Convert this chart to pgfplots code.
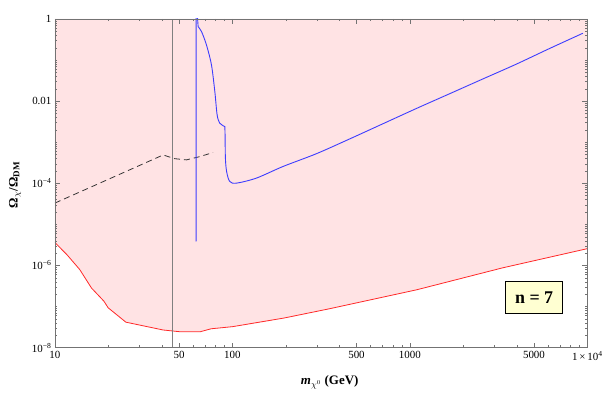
\documentclass[border=0pt]{standalone}
\usepackage{fontspec}
\setmainfont{Liberation Serif}
\usepackage{pgfplots}
\pgfplotsset{compat=1.18}

\definecolor{pinkfill}{RGB}{255,227,228}
\definecolor{redline}{RGB}{255,40,40}
\definecolor{blueline}{RGB}{60,60,255}
\definecolor{boxfill}{RGB}{255,255,210}

\begin{document}
\begin{tikzpicture}
\begin{axis}[
    scale only axis,
    width=533bp, height=329bp,
    xmode=log, ymode=log,
    xmin=10, xmax=10000,
    ymin=1e-8, ymax=1,
    axis on top,
    tick align=inside,
    major tick length=5bp,
    minor tick length=2.5bp,
    axis line style={black!55},
    every tick/.style={black!55},
    xtick={10,50,100,500,1000,5000,10000},
    xticklabels={10,50,100,500,1000,5000,1\,×\,10\textsuperscript{4}},
    minor xtick={20,30,40,60,70,80,90,200,300,400,600,700,800,900,2000,3000,4000,6000,7000,8000,9000},
    ytick={1e-8,1e-6,1e-4,1e-2,1},
    yticklabels={10\textsuperscript{−8},10\textsuperscript{−6},10\textsuperscript{−4},0.01,1},
    minor ytick={2e-8,3e-8,4e-8,5e-8,6e-8,7e-8,8e-8,9e-8,1e-7,
                 2e-7,3e-7,4e-7,5e-7,6e-7,7e-7,8e-7,9e-7,
                 2e-6,3e-6,4e-6,5e-6,6e-6,7e-6,8e-6,9e-6,1e-5,
                 2e-5,3e-5,4e-5,5e-5,6e-5,7e-5,8e-5,9e-5,
                 2e-4,3e-4,4e-4,5e-4,6e-4,7e-4,8e-4,9e-4,1e-3,
                 2e-3,3e-3,4e-3,5e-3,6e-3,7e-3,8e-3,9e-3,
                 0.02,0.03,0.04,0.05,0.06,0.07,0.08,0.09,0.1,
                 0.2,0.3,0.4,0.5,0.6,0.7,0.8,0.9},
    ticklabel style={font=\fontsize{11}{13}\selectfont},
    xlabel={\textbf{\textit{m}}$_{\chi^{0}}$ \textbf{(GeV)}},
    ylabel={\textbf{Ω}$_{\chi}$\textbf{/Ω\textsubscript{DM}}},
    xlabel style={at={(axis description cs:0.516,-0.106)}, anchor=center, font=\fontsize{13}{15}\selectfont},
    ylabel style={at={(axis description cs:-0.075,0.495)}, anchor=center, font=\fontsize{13}{15}\selectfont},
]
% allowed region (shaded above the lower bound)
\addplot[draw=none, fill=pinkfill] coordinates {
    (10,3.63e-6) (11.75,1.78e-6) (13.8,7.94e-7) (16.07,2.82e-7) (17.78,1.78e-7)
    (18.88,1.35e-7) (19.95,9.33e-8) (25.1,4.17e-8) (40.7,2.69e-8) (50.1,2.45e-8)
    (66.1,2.45e-8) (75.9,2.88e-8) (100,3.24e-8) (195,5.25e-8) (355,8.91e-8)
    (1096,2.57e-7) (3311,8.71e-7) (10000,2.57e-6) (10000,1) (10,1)};
% lower bound
\addplot[redline, line width=0.8pt] coordinates {
    (10,3.63e-6) (11.75,1.78e-6) (13.8,7.94e-7) (16.07,2.82e-7) (17.78,1.78e-7)
    (18.88,1.35e-7) (19.95,9.33e-8) (25.1,4.17e-8) (40.7,2.69e-8) (50.1,2.45e-8)
    (66.1,2.45e-8) (75.9,2.88e-8) (100,3.24e-8) (195,5.25e-8) (355,8.91e-8)
    (1096,2.57e-7) (3311,8.71e-7) (10000,2.57e-6)};
% Z-pole line
\addplot[black!50, line width=0.6pt] coordinates {(45.7,1e-8) (45.7,1)};
% dashed curve
\addplot[black!80, line width=0.8pt, dash pattern=on 6bp off 4bp] coordinates {
    (10,3.31e-5) (40.7,4.9e-4) (47.3,3.98e-4) (55.1,3.72e-4) (65.5,4.47e-4) (77.8,5.62e-4)};
% relic density: resonance spike
\addplot[blueline, line width=0.9pt, line join=round] coordinates {
    (62.3,3) (62.4,3.9e-6) (62.5,3) (64.1,0.65)};
% falling part up to the shoulder
\addplot[blueline, line width=0.9pt, smooth, tension=0.5, line cap=round] coordinates {
    (64.1,0.65) (67.0,0.491) (71.4,0.233) (76.2,0.076) (79.6,0.0171)
    (82.0,4.63e-3) (84.9,2.90e-3) (90.6,2.41e-3)};
% drop and rising tail
\addplot[blueline, line width=0.9pt, smooth, tension=0.5, line cap=round] coordinates {
    (90.6,2.41e-3) (90.9,1.5e-3) (91.3,4e-4) (92.8,1.9e-4) (96.6,1.11e-4) (105.4,1.01e-4)
    (136.5,1.34e-4) (192.8,2.57e-4) (297,5.25e-4) (457,1.20e-3) (705,2.82e-3)
    (1086,6.61e-3) (1671,0.0151) (2576,0.0347) (3972,0.0794) (6109,0.1905) (9400,0.447)};
\node[draw=black, line width=0.9pt, fill=boxfill, minimum width=57bp, minimum height=32bp,
      font=\bfseries\fontsize{18}{20}\selectfont] at (rel axis cs:0.90,0.152) {n = 7};
\end{axis}
\path ([shift={(-55bp,-50bp)}]current axis.south west) rectangle ([shift={(18bp,19bp)}]current axis.north east);
\end{tikzpicture}
\end{document}
